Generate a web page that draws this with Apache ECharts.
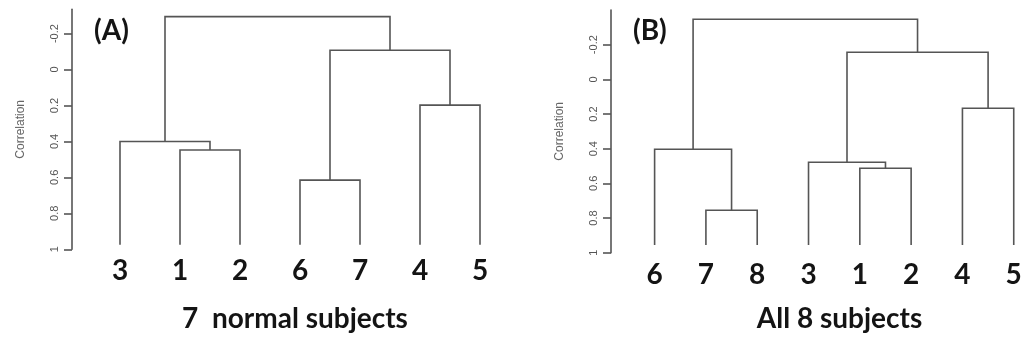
<!DOCTYPE html>
<html>
<head>
<meta charset="utf-8">
<script src="https://cdn.jsdelivr.net/npm/echarts@6/dist/echarts.min.js"></script>
<style>html,body{margin:0;padding:0;background:#fff;}#c{width:1030px;height:344px;}</style>
</head>
<body>
<div id="c"></div>
<script>
// ---- data ----
var leavesA = ['3', '1', '2', '6', '7', '4', '5'];
// merges: [left, right, height]; negative = leaf position (1-based), positive = earlier merge (1-based)
var mergesA = [
  [-2, -3, 0.448],
  [-1, 1, 0.40],
  [-4, -5, 0.615],
  [-6, -7, 0.198],
  [3, 4, -0.107],
  [2, 5, -0.294]
];
var leafLevelA = 0.975;

var leavesB = ['6', '7', '8', '3', '1', '2', '4', '5'];
var mergesB = [
  [-2, -3, 0.755],
  [-1, 1, 0.403],
  [-5, -6, 0.513],
  [-4, 3, 0.478],
  [-7, -8, 0.167],
  [4, 5, -0.156],
  [2, 6, -0.347]
];
var leafLevelB = 0.955;

var tickValues = [-0.2, 0, 0.2, 0.4, 0.6, 0.8, 1];
var tickLabels = ['-0.2', '0', '0.2', '0.4', '0.6', '0.8', '1'];
var panelLabels = ['(A)', '(B)'];
var panelTitles = ['7  normal subjects', 'All 8 subjects'];
var axisName = 'Correlation';

// ---- build link segments ----
function buildLinks(merges, leafLevel) {
  var pos = [], hgt = [], out = [];
  function node(r) {
    if (r < 0) return [-r - 1, leafLevel];
    return [pos[r - 1], hgt[r - 1]];
  }
  merges.forEach(function (m) {
    var a = node(m[0]), b = node(m[1]);
    out.push([a[0], b[0], a[1], b[1], m[2]]);
    pos.push((a[0] + b[0]) / 2);
    hgt.push(m[2]);
  });
  return out;
}

var lineColor = '#555';
var bigFont = { fontSize: 28, fontWeight: 'bold', fontFamily: 'Lato', color: '#141414' };

function renderLink(params, api) {
  var xl = api.value(0), xr = api.value(1), hl = api.value(2), hr = api.value(3), h = api.value(4);
  var pts = [api.coord([xl, hl]), api.coord([xl, h]), api.coord([xr, h]), api.coord([xr, hr])];
  return {
    type: 'polyline',
    shape: { points: pts },
    style: { stroke: lineColor, lineWidth: 1.6, fill: null }
  };
}

function yAxisFor(gi, min) {
  return {
    gridIndex: gi, type: 'value', inverse: true, min: min, max: 1,
    name: axisName, nameLocation: 'middle', nameRotate: 90, nameGap: 45,
    nameTextStyle: { fontSize: 12, color: '#666', fontFamily: 'Liberation Sans' },
    axisLine: { show: true, onZero: false, lineStyle: { color: lineColor, width: 1.6 } },
    axisTick: { show: true, length: 8, lineStyle: { color: lineColor, width: 1.6 }, customValues: tickValues },
    axisLabel: {
      rotate: 90, margin: 12, fontSize: 11, color: '#555', fontFamily: 'Liberation Sans',
      customValues: tickValues,
      formatter: function (v) { return tickLabels[tickValues.indexOf(v)]; }
    },
    splitLine: { show: false }
  };
}
function xAxisFor(gi, min, max, leaves) {
  var idx = leaves.map(function (_, i) { return i; });
  return {
    gridIndex: gi, type: 'value', min: min, max: max,
    axisLine: { show: false, onZero: false }, axisTick: { show: false }, splitLine: { show: false },
    axisLabel: {
      margin: 8, fontSize: bigFont.fontSize, fontWeight: bigFont.fontWeight, color: bigFont.color, fontFamily: bigFont.fontFamily,
      customValues: idx,
      formatter: function (v) { return leaves[v]; }
    }
  };
}
function bigText(opts, txt, extra) {
  var st = { text: txt, fontSize: bigFont.fontSize, fontWeight: bigFont.fontWeight, fontFamily: bigFont.fontFamily, fill: bigFont.color };
  for (var k in extra) st[k] = extra[k];
  opts.type = 'text';
  opts.style = st;
  return opts;
}

var chart = echarts.init(document.getElementById('c'), null, { renderer: 'canvas' });
chart.setOption({
  backgroundColor: '#fff',
  animation: false,
  grid: [
    { left: 72, top: 9.3, width: 456, height: 240, outerBoundsMode: 'none', containLabel: false },
    { left: 611, top: 10, width: 413, height: 242.7, outerBoundsMode: 'none', containLabel: false }
  ],
  xAxis: [xAxisFor(0, -0.8, 6.8, leavesA), xAxisFor(1, -0.85, 7.2, leavesB)],
  yAxis: [yAxisFor(0, -0.335), yAxisFor(1, -0.4)],
  series: [
    { type: 'custom', xAxisIndex: 0, yAxisIndex: 0, renderItem: renderLink, data: buildLinks(mergesA, leafLevelA), encode: { x: [0, 1], y: [2, 3, 4] }, silent: true },
    { type: 'custom', xAxisIndex: 1, yAxisIndex: 1, renderItem: renderLink, data: buildLinks(mergesB, leafLevelB), encode: { x: [0, 1], y: [2, 3, 4] }, silent: true }
  ],
  graphic: [
    bigText({ left: 94, top: 17 }, panelLabels[0], {}),
    bigText({ left: 633, top: 17 }, panelLabels[1], {}),
    bigText({ x: 295, y: 318.5 }, panelTitles[0], { align: 'center', verticalAlign: 'middle' }),
    bigText({ x: 839.5, y: 318.5 }, panelTitles[1], { align: 'center', verticalAlign: 'middle' })
  ]
});
</script>
</body>
</html>
